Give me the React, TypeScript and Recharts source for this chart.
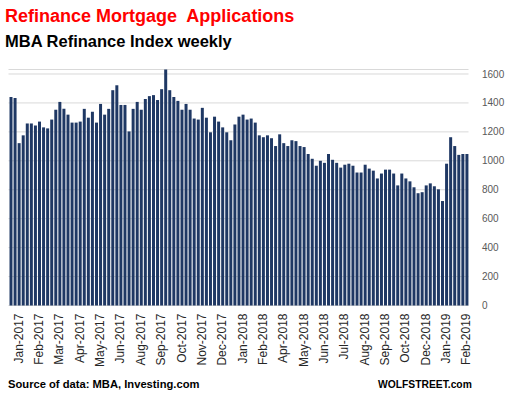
import React from 'react';
import { BarChart, Bar, XAxis, YAxis, CartesianGrid } from 'recharts';

// MBA Refinance Index, weekly (Dec 2016 – Feb 2019)
const refiIndex: number[] = [
  1441, 1434, 1122, 1176, 1258, 1258, 1244, 1271, 1231, 1224,
  1285, 1353, 1407, 1359, 1319, 1264, 1264, 1271, 1359, 1298,
  1339, 1264, 1393, 1319, 1359, 1488, 1522, 1386, 1386, 1203,
  1359, 1407, 1353, 1427, 1447, 1454, 1420, 1495, 1631, 1488,
  1441, 1414, 1353, 1393, 1353, 1292, 1285, 1366, 1298, 1197,
  1305, 1271, 1231, 1197, 1142, 1251, 1305, 1319, 1285, 1292,
  1264, 1176, 1163, 1176, 1156, 1102, 1183, 1122, 1102, 1142,
  1136, 1102, 1095, 1047, 1014, 966, 1000, 986, 1047, 1007,
  986, 953, 973, 980, 966, 919, 919, 973, 946, 932,
  878, 912, 939, 939, 912, 830, 912, 878, 858, 817,
  776, 783, 830, 844, 824, 803, 722, 980, 1163, 1102,
  1041, 1047, 1047,
];

// Month labels shown on every 5th week, starting with week 3
const tickLabels: string[] = [
  'Jan-2017', 'Feb-2017', 'Mar-2017', 'Apr-2017', 'May-2017', 'Jun-2017',
  'Aug-2017', 'Sep-2017', 'Oct-2017', 'Nov-2017', 'Dec-2017', 'Jan-2018',
  'Feb-2018', 'Apr-2018', 'May-2018', 'Jun-2018', 'Jul-2018', 'Aug-2018',
  'Sep-2018', 'Oct-2018', 'Dec-2018', 'Jan-2019', 'Feb-2019',
];
const firstLabelWeek = 2;
const labelEvery = 5;

const yTicks: number[] = [0, 200, 400, 600, 800, 1000, 1200, 1400, 1600];

const data = refiIndex.map((v, i) => ({ week: i, value: v }));

const XTick = (props: any) => {
  const { x, y, index } = props;
  const k = index - firstLabelWeek;
  if (k < 0 || k % labelEvery !== 0) return null;
  const label = tickLabels[k / labelEvery];
  if (!label) return null;
  return (
    <text
      x={x}
      y={y}
      transform={`rotate(-90, ${x}, ${y})`}
      textAnchor="end"
      dominantBaseline="central"
      fontFamily="Liberation Sans, Arial, sans-serif"
      fontSize={12}
      fill="#262626"
    >
      {label}
    </text>
  );
};

export default function App() {
  return (
    <div style={{ position: 'absolute', left: 0, top: 0, width: 509, height: 398, background: '#fff' }}>
      <BarChart
        width={509}
        height={398}
        data={data}
        margin={{ top: 69.5, right: 0.5, bottom: 32.5, left: 8.5 }}
        barSize={3}
      >
        <CartesianGrid vertical={false} stroke="#d9d9d9" strokeWidth={1} />
        <XAxis
          dataKey="week"
          interval={0}
          axisLine={false}
          tickLine={false}
          tickSize={0}
          tickMargin={8}
          height={60}
          tick={<XTick />}
        />
        <YAxis
          orientation="right"
          domain={[0, 1600]}
          ticks={yTicks}
          axisLine={false}
          tickLine={false}
          tickSize={6}
          tickMargin={7.5}
          width={40}
          tick={{ fill: '#595959', fontSize: 10, fontFamily: 'Liberation Sans, Arial, sans-serif' }}
        />
        <Bar dataKey="value" fill="#1f3864" isAnimationActive={false} />
      </BarChart>
      <svg
        width={509}
        height={398}
        style={{ position: 'absolute', left: 0, top: 0, pointerEvents: 'none' }}
      >
        <text
          x={5}
          y={22}
          fontFamily="Liberation Sans, Arial, sans-serif"
          fontWeight="bold"
          fontSize={18}
          fill="#ff0000"
          style={{ whiteSpace: 'pre' }}
        >
          {'Refinance Mortgage  Applications'}
        </text>
        <text
          x={5}
          y={46.5}
          fontFamily="Liberation Sans, Arial, sans-serif"
          fontWeight="bold"
          fontSize={16.5}
          fill="#000"
        >
          MBA Refinance Index weekly
        </text>
        <text
          x={8}
          y={388}
          fontFamily="Liberation Sans, Arial, sans-serif"
          fontWeight="bold"
          fontSize={11.2}
          fill="#000"
        >
          Source of data: MBA, Investing.com
        </text>
        <text
          x={378}
          y={388}
          fontFamily="Liberation Sans, Arial, sans-serif"
          fontWeight="bold"
          fontSize={10.3}
          fill="#000"
        >
          WOLFSTREET.com
        </text>
      </svg>
    </div>
  );
}
